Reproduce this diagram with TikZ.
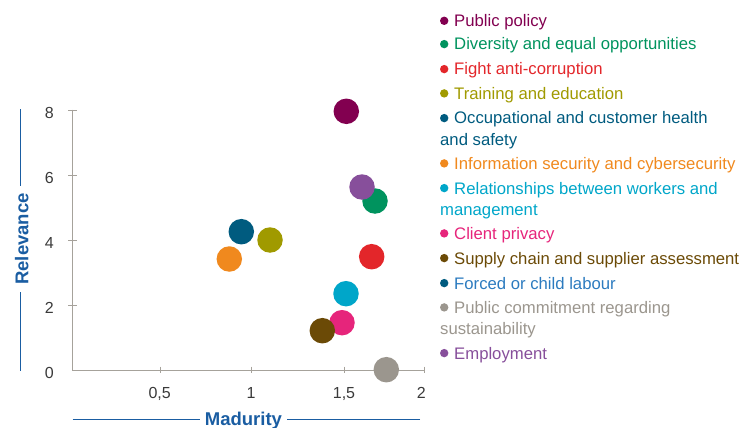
\documentclass[tikz,border=0pt]{standalone}
\usepackage{fontspec}
\setmainfont{Liberation Sans}
\usetikzlibrary{positioning}

\definecolor{policy}{HTML}{820050}
\definecolor{diversity}{HTML}{00935E}
\definecolor{corruption}{HTML}{E3262A}
\definecolor{training}{HTML}{A09A00}
\definecolor{health}{HTML}{005B7F}
\definecolor{security}{HTML}{F0891E}
\definecolor{workers}{HTML}{00A6C9}
\definecolor{privacy}{HTML}{E6257B}
\definecolor{supply}{HTML}{6B4A06}
\definecolor{labour}{HTML}{2C7BBF}
\definecolor{commitment}{HTML}{9B968E}
\definecolor{employment}{HTML}{874F9B}
\definecolor{axisgray}{HTML}{A6A29B}
\definecolor{tickgray}{HTML}{3A3A3A}
\definecolor{titleblue}{HTML}{1A5DA2}

\begin{document}
\begin{tikzpicture}[x=1pt, y=-1pt, font=\fontsize{16}{16}\selectfont,
    bubble/.style={circle, fill=#1, minimum size=25.5pt, inner sep=0pt},
    leg/.style={anchor=base west, inner sep=0pt, text=#1,
        font=\fontsize{16.7}{16.7}\selectfont},
    ticklabel/.style={inner sep=0pt, text=tickgray},
    axistitle/.style={text=titleblue, inner ysep=0pt, inner xsep=6pt,
        font=\bfseries\fontsize{18.5}{18.5}\selectfont},
    titleline/.style={draw=titleblue, line width=1.3pt}]
    \useasboundingbox (0,0) rectangle (742,428);

    % axes
    \coordinate (ytop) at (72.7,109.5);
    \coordinate (origin) at (72.7,370.5);
    \coordinate (xend) at (424.3,370.5);
    \draw[axisgray, line width=1pt] (ytop) -- (origin) -- (xend);
    \foreach \ty/\lab in {110/8, 175/6, 240/4, 305/2} {
        \draw[axisgray, line width=1pt] (68,\ty) -- (76.5,\ty);
        \node[ticklabel, anchor=base east] (y\lab) at (54,\ty+8.3) {\lab};
    }
    \node[ticklabel, anchor=base east] (y0) at (54,378.8) {0};
    \foreach \tx/\lx/\lab in {160/159.7/0{,}5, 251/251/1, 344.3/344/1{,}5, 424.3/421.3/2} {
        \draw[axisgray, line width=1pt] (\tx,366.7) -- (\tx,373.3);
        \node[ticklabel, anchor=base] at (\lx,398.3) {\lab};
    }

    % axis titles
    \node[axistitle, rotate=90, anchor=base, inner xsep=7pt] (relevance) at (28.3,239) {Relevance};
    \coordinate (rtop) at (20.7,109);
    \coordinate (rbot) at (20.7,370.5);
    \draw[titleline] (rtop) -- (rtop |- relevance.east);
    \draw[titleline] (rbot) -- (rbot |- relevance.west);

    \node[axistitle, anchor=base, inner xsep=5pt] (madurity) at (243.4,425) {Madurity};
    \coordinate (mleft) at (72.7,419.5);
    \coordinate (mright) at (420,419.5);
    \draw[titleline] (mleft) -- (mleft -| madurity.west);
    \draw[titleline] (mright) -- (mright -| madurity.east);

    % bubbles
    \foreach \bx/\by/\c in {346.3/111.3/policy, 375/201/diversity, 362/187/employment,
        371.7/256.7/corruption, 270/240/training, 241.3/231.7/health,
        229.3/259/security, 346/293.7/workers, 342/322.7/privacy,
        322.3/330.7/supply, 386.3/369.7/commitment}
        \node[bubble=\c] (b-\c) at (\bx,\by) {};

    % legend
    \foreach \ly/\c in {26.7/policy, 50/diversity, 75/corruption, 99.3/training,
        124/health, 169.3/security, 194/workers, 239.3/privacy, 264/supply,
        289/health, 313.3/commitment, 359/employment}
        \fill[\c] (444.2,\ly-5.9) circle (4.2);
    \node[leg=policy] (l-policy) at (454,26.7) {Public policy};
    \node[leg=diversity] (l-diversity) at (454,50) {Diversity and equal opportunities};
    \node[leg=corruption] (l-corruption) at (454,75) {Fight anti-corruption};
    \node[leg=training] (l-training) at (454,99.3) {Training and education};
    \node[leg=health] (l-health) at (454,124) {Occupational and customer health};
    \node[leg=health] (l-health2) at (440,145) {and safety};
    \node[leg=security] (l-security) at (454,169.3) {Information security and cybersecurity};
    \node[leg=workers] (l-workers) at (454,194) {Relationships between workers and};
    \node[leg=workers] (l-workers2) at (440,215) {management};
    \node[leg=privacy] (l-privacy) at (454,239.3) {Client privacy};
    \node[leg=supply] (l-supply) at (454,264) {Supply chain and supplier assessment};
    \node[leg=labour] (l-labour) at (454,289) {Forced or child labour};
    \node[leg=commitment] (l-commitment) at (454,313.3) {Public commitment regarding};
    \node[leg=commitment] (l-commitment2) at (440,334) {sustainability};
    \node[leg=employment] (l-employment) at (454,359) {Employment};
\end{tikzpicture}
\end{document}
